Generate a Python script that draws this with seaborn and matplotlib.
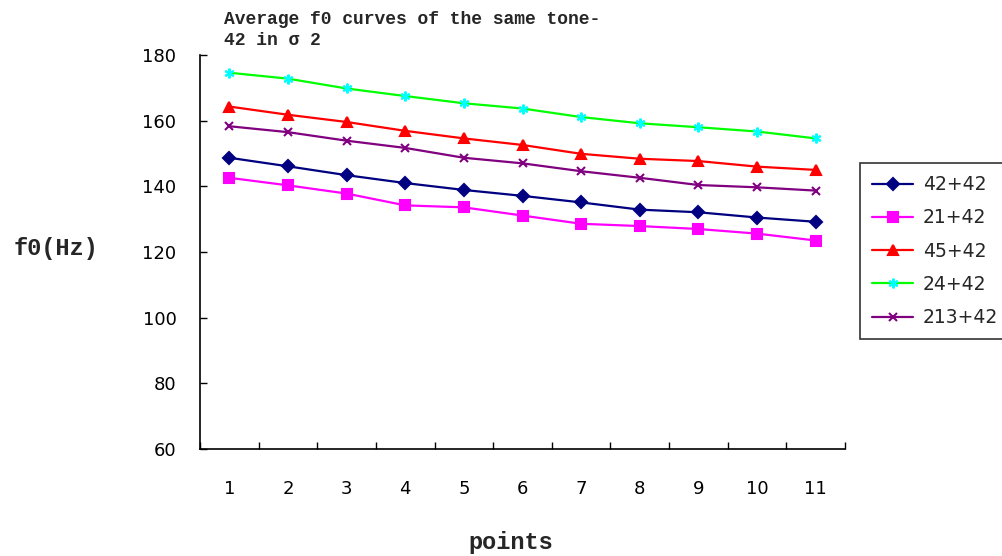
import numpy as np
import pandas as pd
import matplotlib
matplotlib.use("Agg")
import matplotlib.pyplot as plt
import seaborn as sns

points = list(range(1, 12))
series_names = ["42+42", "21+42", "45+42", "24+42", "213+42"]
s_42_42 = [148.7, 146.1, 143.4, 141.0, 138.9, 137.1, 135.1, 132.9, 132.1, 130.5, 129.2]
s_21_42 = [142.6, 140.3, 137.8, 134.2, 133.6, 131.1, 128.6, 127.9, 127.0, 125.6, 123.5]
s_45_42 = [164.3, 161.8, 159.6, 156.9, 154.6, 152.6, 149.9, 148.4, 147.7, 146.0, 145.0]
s_24_42 = [174.6, 172.8, 169.8, 167.5, 165.3, 163.7, 161.1, 159.2, 158.0, 156.7, 154.6]
s_213_42 = [158.3, 156.5, 153.9, 151.7, 148.7, 147.0, 144.6, 142.6, 140.4, 139.7, 138.7]
series_values = [s_42_42, s_21_42, s_45_42, s_24_42, s_213_42]

line_colors = ["#000080", "#FF00FF", "#FF0000", "#00FF00", "#800080"]
marker_colors = ["#000080", "#FF00FF", "#FF0000", "#00FFFF", "#800080"]
markers = ["D", "s", "^", (6, 2, 0), "x"]
msizes = [6, 7, 7.5, 7, 6]

title_text = "Average f0 curves of the same tone-\n42 in σ 2"

sns.set_style("white")
plt.rcParams["font.family"] = ["DejaVu Sans"]

fig = plt.figure(figsize=(10.02, 5.56), dpi=100)
ax = fig.add_axes([200 / 1002, 1 - 449 / 556, (845 - 200) / 1002, (449 - 55) / 556])

for name, vals, lc, mc, mk, ms in zip(series_names, series_values, line_colors,
                                      marker_colors, markers, msizes):
    df = pd.DataFrame({"point": points, "f0": vals})
    sns.lineplot(data=df, x="point", y="f0", ax=ax, color=lc, linewidth=1.6,
                 marker=mk, markersize=ms, markeredgecolor=mc,
                 markerfacecolor=mc, markeredgewidth=1.5, label=name)

ax.set_xlim(0.5, 11.5)
ax.set_ylim(60, 180)
ax.set_yticks(np.arange(60, 181, 20))
ax.set_xticks(points)
ax.set_xticklabels([str(p) for p in points])
ax.set_xticks(np.arange(0.5, 11.6, 1.0), minor=True)
ax.tick_params(axis="x", which="major", length=0, pad=22, labelsize=13, colors="black")
ax.tick_params(axis="x", which="minor", length=5, direction="in", width=1, color="black")
ax.tick_params(axis="y", which="major", length=5, direction="in", width=1,
               pad=17, labelsize=13, colors="black", left=True)
ax.xaxis.set_tick_params(bottom=True, which="both")

for side in ["top", "right"]:
    ax.spines[side].set_visible(False)
for side in ["left", "bottom"]:
    ax.spines[side].set_color("black")
    ax.spines[side].set_linewidth(1.2)

ax.set_xlabel("")
ax.set_ylabel("")

mono_bold = dict(family="Liberation Mono", weight="bold")
fig.text(224 / 1002, 1 - 11 / 556, title_text, ha="left", va="top",
         fontsize=13, linespacing=1.3, **mono_bold)
fig.text(56 / 1002, 1 - 249 / 556, "f0(Hz)", ha="center", va="center",
         fontsize=17, **mono_bold)
fig.text(511 / 1002, 1 - 543 / 556, "points", ha="center", va="center",
         fontsize=17, **mono_bold)

leg = ax.legend(loc="upper left", bbox_to_anchor=(860 / 1002, 1 - 163 / 556),
                bbox_transform=fig.transFigure, borderaxespad=0, frameon=True,
                fancybox=False, shadow=False, edgecolor="black", fontsize=13.5,
                handlelength=2.2, handletextpad=0.5, labelspacing=0.76,
                borderpad=0.65)
leg.get_frame().set_linewidth(1.2)

fig.savefig("out.png", dpi=100)
